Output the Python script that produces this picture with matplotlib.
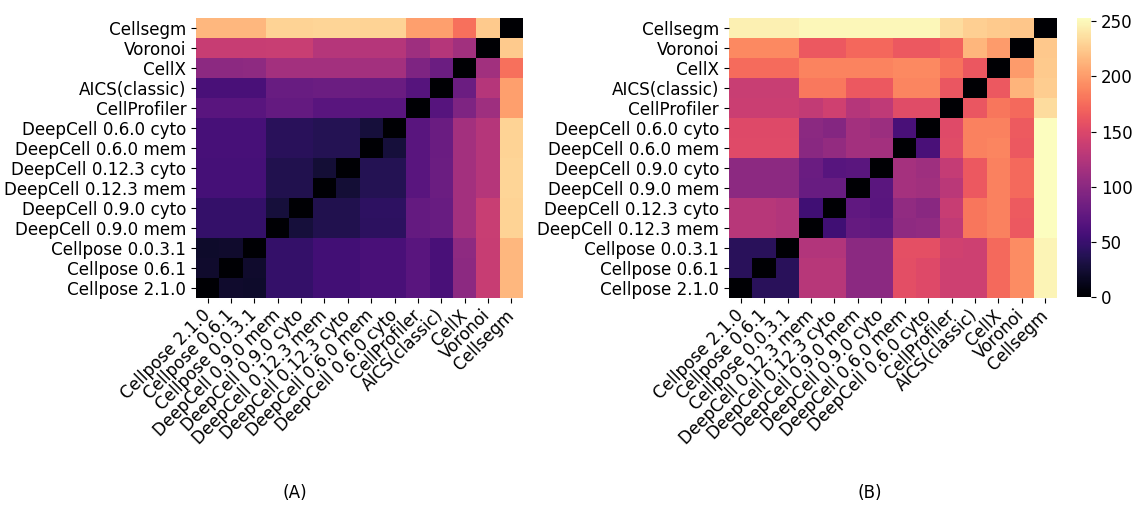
import matplotlib
matplotlib.use("Agg")
import matplotlib.pyplot as plt
import numpy as np

# labels (bottom-to-top on y, left-to-right on x)
labels_a = ["Cellpose 2.1.0", "Cellpose 0.6.1", "Cellpose 0.0.3.1",
            "DeepCell 0.9.0 mem", "DeepCell 0.9.0 cyto",
            "DeepCell 0.12.3 mem", "DeepCell 0.12.3 cyto",
            "DeepCell 0.6.0 mem", "DeepCell 0.6.0 cyto",
            "CellProfiler", "AICS(classic)", "CellX", "Voronoi", "Cellsegm"]

labels_b = ["Cellpose 2.1.0", "Cellpose 0.6.1", "Cellpose 0.0.3.1",
            "DeepCell 0.12.3 mem", "DeepCell 0.12.3 cyto",
            "DeepCell 0.9.0 mem", "DeepCell 0.9.0 cyto",
            "DeepCell 0.6.0 mem", "DeepCell 0.6.0 cyto",
            "CellProfiler", "AICS(classic)", "CellX", "Voronoi", "Cellsegm"]

# pairwise distances, row i / column j follow the label order above
dist_a = [
    [0, 21, 20, 47, 47, 55, 55, 59, 59, 69, 59, 101, 137, 215],
    [21, 0, 21, 47, 47, 55, 55, 59, 59, 69, 59, 101, 137, 215],
    [20, 21, 0, 47, 47, 55, 55, 59, 59, 69, 59, 102, 137, 215],
    [47, 47, 47, 0, 27, 35, 35, 42, 42, 76, 79, 115, 138, 230],
    [47, 47, 47, 27, 0, 35, 35, 43, 43, 76, 79, 115, 138, 230],
    [57, 57, 57, 35, 35, 0, 25, 37, 37, 69, 81, 115, 126, 231],
    [57, 57, 57, 35, 35, 25, 0, 37, 37, 69, 81, 115, 126, 231],
    [58, 58, 58, 40, 40, 37, 37, 0, 27, 69, 80, 115, 126, 230],
    [58, 58, 58, 40, 40, 37, 37, 27, 0, 69, 80, 115, 126, 230],
    [69, 69, 69, 76, 76, 69, 69, 69, 69, 0, 67, 92, 112, 202],
    [59, 59, 59, 79, 79, 81, 81, 80, 80, 67, 0, 81, 126, 202],
    [101, 101, 102, 115, 115, 115, 115, 115, 115, 92, 81, 0, 114, 177],
    [137, 137, 137, 138, 138, 126, 126, 126, 126, 112, 126, 114, 0, 225],
    [215, 215, 215, 230, 230, 231, 231, 230, 230, 202, 202, 177, 225, 0],
]

dist_b = [
    [0, 40, 40, 127, 127, 100, 100, 156, 152, 141, 141, 173, 192, 248],
    [40, 0, 40, 127, 127, 100, 100, 156, 152, 141, 141, 173, 192, 248],
    [40, 40, 0, 124, 124, 100, 100, 157, 157, 143, 141, 173, 192, 248],
    [127, 127, 124, 0, 54, 77, 74, 102, 104, 133, 180, 186, 164, 253],
    [127, 127, 124, 54, 0, 74, 69, 104, 99, 137, 180, 186, 165, 253],
    [101, 101, 101, 79, 79, 0, 70, 116, 114, 129, 164, 186, 173, 253],
    [101, 101, 101, 80, 68, 70, 0, 116, 112, 135, 164, 186, 173, 253],
    [153, 153, 153, 99, 105, 115, 115, 0, 59, 154, 186, 188, 164, 253],
    [152, 152, 152, 100, 96, 115, 110, 59, 0, 153, 186, 186, 165, 253],
    [139, 139, 139, 134, 142, 126, 132, 154, 154, 0, 162, 180, 173, 235],
    [138, 138, 138, 181, 181, 164, 164, 188, 188, 162, 0, 164, 213, 227],
    [174, 174, 174, 187, 187, 187, 187, 190, 190, 178, 163, 0, 200, 225],
    [190, 190, 190, 164, 164, 172, 172, 164, 164, 169, 214, 200, 0, 224],
    [246, 246, 246, 250, 250, 250, 250, 250, 250, 235, 228, 225, 223, 0],
]

cbar_ticks = [0, 50, 100, 150, 200, 250]

VMAX = 253
FS = 12.1

fig = plt.figure(figsize=(11.33, 5.05), dpi=100)
ax_a = fig.add_axes([0.1730, 0.4099, 0.2886, 0.5545])
ax_b = fig.add_axes([0.6434, 0.4099, 0.2895, 0.5545])
cax = fig.add_axes([0.9506, 0.4119, 0.0124, 0.5525])


def draw(ax, data, labels):
    data = np.array(data, dtype=float)
    n = len(labels)
    mesh = ax.pcolormesh(np.arange(n + 1), np.arange(n + 1), data,
                         cmap="magma", vmin=0, vmax=VMAX)
    ax.set_xlim(0, n)
    ax.set_ylim(0, n)
    ax.set_xticks(np.arange(n) + 0.5)
    ax.set_yticks(np.arange(n) + 0.5)
    ax.set_xticklabels(labels, rotation=45, ha="right", va="center",
                       rotation_mode="anchor", fontsize=FS)
    ax.set_yticklabels(labels, fontsize=FS)
    ax.tick_params(length=3.5, width=0.8, pad=3.5)
    ax.tick_params(axis="x", pad=7)
    for s in ax.spines.values():
        s.set_visible(False)
    return mesh


draw(ax_a, dist_a, labels_a)
mesh = draw(ax_b, dist_b, labels_b)

cb = fig.colorbar(mesh, cax=cax, ticks=cbar_ticks)
cb.outline.set_visible(False)
cb.ax.tick_params(labelsize=FS, length=3.5, width=0.8)

fig.text(295 / 1133, 1 - 493 / 505, "(A)", ha="center", va="center", fontsize=FS)
fig.text(870 / 1133, 1 - 493 / 505, "(B)", ha="center", va="center", fontsize=FS)

fig.savefig("out.png", dpi=100, facecolor="white")
